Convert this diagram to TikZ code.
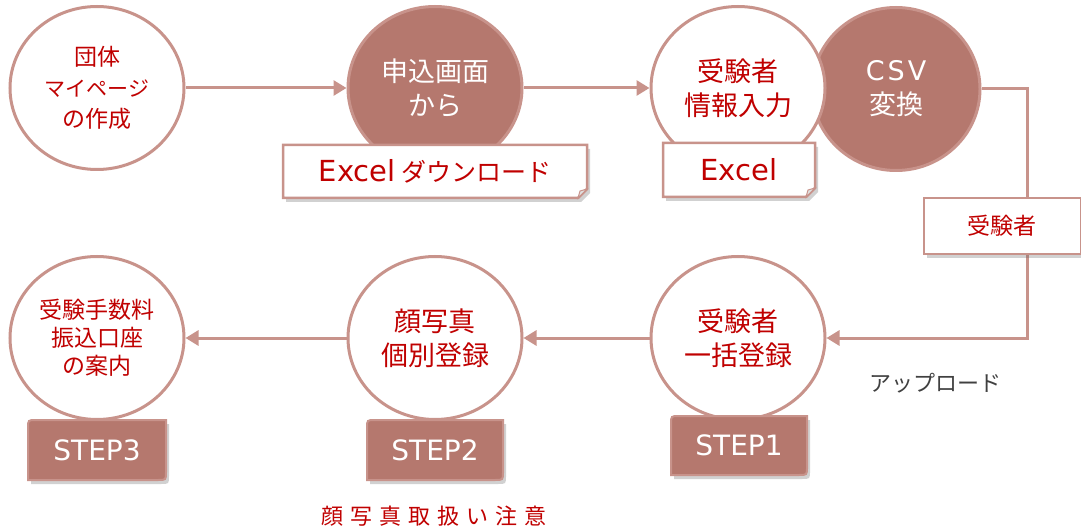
\documentclass[tikz,border=0pt]{standalone}
\usepackage{fontspec}
\setmainfont{Noto Sans CJK JP}
\newfontfamily\lat{DejaVu Sans}
\usetikzlibrary{shapes.geometric,arrows.meta,calc,shadows}
\definecolor{rose}{HTML}{B5786E}
\definecolor{roseline}{HTML}{C8938B}
\definecolor{txtred}{HTML}{C00000}
\definecolor{txtgray}{HTML}{404040}
\newcommand\mkstep[6]{%
  \coordinate (#1nw) at (#2,#3); \coordinate (#1se) at (#4,#5);
  \path[stepshape] ($(#1nw)+(0,8)$) .. controls (#1nw) .. ($(#1nw)+(8,0)$) -- (#1nw -| #1se) -- ($(#1se)+(0,-8)$) .. controls (#1se) .. ($(#1se)+(-8,0)$) -- (#1nw |- #1se) -- cycle;
  \node[steptext] (#1) at ($(#1nw)!0.5!(#1se)$) {#6};}
\newcommand\mkfold[6]{%
  \coordinate (#1nw) at (#2,#3); \coordinate (#1se) at (#4,#5);
  \path[foldshape] (#1nw) -- (#1nw -| #1se) -- ($(#1se)+(0,-9)$) -- ($(#1se)+(-9,0)$) -- (#1nw |- #1se) -- cycle;
  \path[flap] ($(#1se)+(0,-9)$) -- ($(#1se)+(-9,0)$) -- ($(#1se)+(-7,-7)$) -- cycle;
  \node[boxtext] (#1) at ($(#1nw)!0.5!(#1se)$) {#6};}
\begin{document}
\begin{tikzpicture}[x=1pt,y=-1pt,
  circ/.style={ellipse, minimum width=174pt, minimum height=163pt, inner sep=0pt,
    draw=roseline, line width=3pt, fill=white, text=txtred, align=center,
    font=\fontsize{27}{34}\selectfont},
  circf/.style={circ, fill=rose, text=white},
  conn/.style={draw=roseline, line width=3pt, -{Triangle[length=13pt,width=15pt]}},
  shad/.style={drop shadow={shadow xshift=3pt, shadow yshift=-4pt, opacity=0.3, fill=black!60}},
  stepshape/.style={fill=rose, draw=roseline, line width=2pt, shad},
  steptext/.style={text=white, font=\lat\fontsize{28}{30}\selectfont},
  foldshape/.style={fill=white, draw=roseline, line width=2.5pt, shad},
  flap/.style={fill=black!12, draw=roseline, line width=1pt},
  boxtext/.style={text=txtred, font=\fontsize{25}{30}\selectfont},
  plainbox/.style={rectangle, fill=white, draw=roseline, line width=2pt, shad,
    text=txtred, inner sep=0pt, font=\fontsize{23}{26}\selectfont}]
\useasboundingbox (0,0) rectangle (1081,529);

% top row
\node[circ, font=\fontsize{23}{31}\selectfont] (c1) at (97,88)
  {団体\\{\fontsize{21}{28}\selectfont マイページ}\\の作成};
\node[circf] (c2) at (435,88) {申込画面\\から};
\node[circf, minimum width=168pt] (c4) at (896,89) {{\lat C\hspace{3pt}S\hspace{3pt}V}\\変換};
\node[circ] (c3) at (738,88) {受験者\\情報入力};

% bottom row
\node[circ, font=\fontsize{23}{28}\selectfont] (c7) at (97,338)
  {受験手数料\\振込口座\\の案内};
\node[circ] (c6) at (435,338) {顔写真\\個別登録};
\node[circ] (c5) at (738,338) {受験者\\一括登録};

% connectors
\draw[conn] (c1.east) -- (c2.west);
\draw[conn] (c2.east) -- (c3.west);
\coordinate (turn) at (1027,89);
\draw[conn] (c4.east) -- (turn) |- (c5.east);
\draw[conn] (c5.west) -- (c6.east);
\draw[conn] (c6.west) -- (c7.east);

% boxes
\mkfold{dl}{283}{145}{587}{198}{{\lat\fontsize{29}{30}\selectfont Excel} ダウンロード}
\mkfold{ex}{663}{143}{815}{197}{\lat\fontsize{29}{30}\selectfont Excel}
\node[plainbox, minimum width=157pt, minimum height=56pt] (jb) at (1002,226) {受験者};

\mkstep{s3}{28}{420}{166}{480}{STEP3}
\mkstep{s2}{367}{420}{503}{480}{STEP2}
\mkstep{s1}{671}{416}{807}{475}{STEP1}

% labels
\node[text=txtgray, font=\fontsize{22}{24}\selectfont] (up) at (935,383) {アップロード};
\node[text=txtred, font=\fontsize{22}{24}\selectfont] (warn) at (434,516)
  {顔\hspace{7pt}写\hspace{7pt}真\hspace{7pt}取\hspace{7pt}扱\hspace{7pt}い\hspace{7pt}注\hspace{7pt}意};
\end{tikzpicture}
\end{document}
